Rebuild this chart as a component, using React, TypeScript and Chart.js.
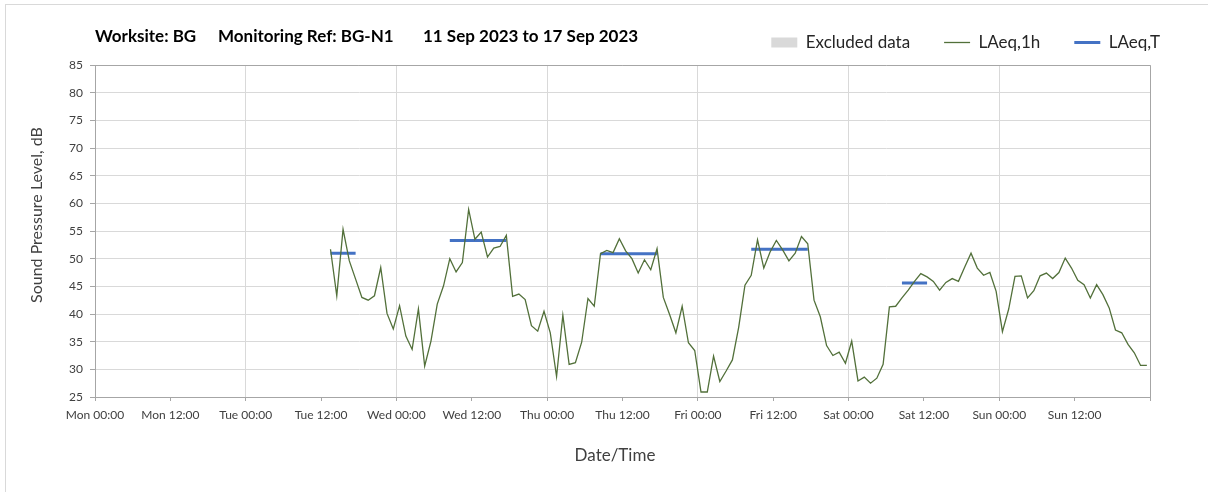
import React, { useEffect, useRef } from 'react';
import { Chart, registerables } from 'chart.js';

Chart.register(...registerables);

// Hours since Mon 00:00 of the first LAeq,1h value (plotted mid-hour)
const START_HOUR = 37.5;

const laeq1h: number[] = [
  51.7, 43.3, 55.3, 49.6, 46.3, 43.0, 42.5, 43.3, 48.4, 40.1,
  37.3, 41.5, 36.0, 33.6, 40.9, 30.6, 35.1, 41.8, 45.1, 50.0,
  47.6, 49.3, 58.9, 53.5, 54.8, 50.3, 51.9, 52.2, 54.2, 43.2,
  43.6, 42.6, 37.9, 36.9, 40.5, 36.6, 28.7, 39.8, 30.9, 31.2,
  34.9, 42.8, 41.4, 50.9, 51.5, 51.1, 53.6, 51.4, 50.0, 47.4,
  49.8, 48.0, 51.8, 43.0, 39.9, 36.6, 41.4, 34.8, 33.4, 25.9,
  25.9, 32.4, 27.8, 29.7, 31.7, 37.6, 45.2, 47.0, 53.4, 48.3,
  51.2, 53.3, 51.6, 49.6, 51.0, 54.0, 52.7, 42.5, 39.5, 34.3,
  32.5, 33.1, 31.1, 35.1, 27.9, 28.6, 27.5, 28.4, 30.9, 41.3,
  41.4, 42.9, 44.3, 45.9, 47.3, 46.7, 45.9, 44.3, 45.7, 46.4,
  45.9, 48.5, 51.0, 48.3, 47.0, 47.5, 44.1, 36.8, 40.9, 46.8,
  46.9, 42.9, 44.2, 46.9, 47.4, 46.4, 47.5, 50.1, 48.3, 46.1,
  45.3, 42.9, 45.3, 43.5, 41.1, 37.1, 36.6, 34.5, 33.0, 30.7,
  30.7,
];

const laeqTStart: number[] = [37.5, 56.5, 80.5, 104.5, 128.5];
const laeqTEnd: number[] = [41.5, 65.5, 89.5, 113.5, 132.5];
const laeqTValue: number[] = [51.0, 53.3, 50.9, 51.7, 45.6];

const dayNames: string[] = ['Mon', 'Tue', 'Wed', 'Thu', 'Fri', 'Sat', 'Sun'];
const halfDayLabels: string[] = ['00:00', '12:00'];

const titleParts: string[] = ['Worksite: BG', 'Monitoring Ref: BG-N1', '11 Sep 2023 to 17 Sep 2023'];
const legendLabels: string[] = ['Excluded data', 'LAeq,1h', 'LAeq,T'];
const xAxisTitle = 'Date/Time';
const yAxisTitle = 'Sound Pressure Level, dB';

const FONT = 'Lato, "Noto Sans", sans-serif';
const GREEN = '#52703a';
const BLUE = '#4472c4';
const GREY_FILL = '#d9d9d9';
const GRID = '#d9d9d9';
const AXIS = '#a6a6a6';

export default function App() {
  const ref = useRef<HTMLCanvasElement | null>(null);

  useEffect(() => {
    if (!ref.current) return;

    const lineData = laeq1h.map((v, i) => ({ x: START_HOUR + i, y: v }));
    const tData: any[] = [];
    laeqTValue.forEach((v, i) => {
      tData.push({ x: laeqTStart[i], y: v });
      tData.push({ x: laeqTEnd[i], y: v });
      tData.push({ x: laeqTEnd[i] + 0.5, y: null });
    });

    const decor = {
      id: 'decor',
      beforeInit(chart: any) {
        const legend = chart.legend;
        if (legend) {
          const orig = legend.fit.bind(legend);
          legend.fit = function () {
            orig();
            this.height = 65;
          };
        }
      },
      afterLayout(chart: any) {
        if (chart.legend) chart.legend.right = 1194;
      },
      beforeDatasetsDraw(chart: any) {
        const { ctx, chartArea } = chart;
        ctx.save();
        ctx.strokeStyle = AXIS;
        ctx.lineWidth = 1;
        ctx.beginPath();
        ctx.moveTo(chartArea.left, Math.round(chartArea.top) + 0.5);
        ctx.lineTo(Math.round(chartArea.right) + 0.5, Math.round(chartArea.top) + 0.5);
        ctx.lineTo(Math.round(chartArea.right) + 0.5, chartArea.bottom);
        ctx.stroke();
        ctx.restore();
      },
      afterDraw(chart: any) {
        const { ctx } = chart;
        ctx.save();
        ctx.fillStyle = '#000';
        ctx.textBaseline = 'middle';
        ctx.textAlign = 'left';
        ctx.font = `bold 17px ${FONT}`;
        ctx.fillText(titleParts[0], 95, 37);
        ctx.fillText(titleParts[1], 218, 37);
        ctx.fillText(titleParts[2], 423, 37);

        ctx.fillStyle = '#404040';
        ctx.font = `17px ${FONT}`;
        ctx.textAlign = 'center';
        ctx.fillText(xAxisTitle, 615, 456);

        ctx.font = `16px ${FONT}`;
        ctx.translate(37, 215);
        ctx.rotate(-Math.PI / 2);
        ctx.fillText(yAxisTitle, 0, 0);
        ctx.restore();
      },
    };

    const chart = new Chart(ref.current, {
      type: 'line',
      data: {
        datasets: [
          {
            type: 'bar',
            label: legendLabels[0],
            data: [],
            backgroundColor: GREY_FILL,
          } as any,
          {
            label: legendLabels[1],
            data: lineData,
            borderColor: GREEN,
            backgroundColor: GREEN,
            borderWidth: 1.3,
            pointRadius: 0,
            tension: 0,
          },
          {
            label: legendLabels[2],
            data: tData,
            borderColor: BLUE,
            backgroundColor: BLUE,
            borderWidth: 3,
            pointRadius: 0,
            spanGaps: false,
          },
        ],
      },
      options: {
        responsive: false,
        animation: false,
        layout: { padding: { left: 0, right: 58, top: 0, bottom: 0 } },
        plugins: {
          title: { display: false },
          tooltip: { enabled: false },
          legend: {
            display: true,
            position: 'top',
            align: 'end',
            labels: {
              usePointStyle: true,
              pointStyleWidth: 26,
              boxHeight: 10,
              padding: 34,
              color: '#262626',
              font: { family: FONT, size: 17 },
              generateLabels: () => [
                { text: legendLabels[0], fillStyle: GREY_FILL, strokeStyle: GREY_FILL, lineWidth: 0, pointStyle: 'rect', datasetIndex: 0, hidden: false, fontColor: '#262626' },
                { text: legendLabels[1], fillStyle: GREEN, strokeStyle: GREEN, lineWidth: 1.3, pointStyle: 'line', datasetIndex: 1, hidden: false, fontColor: '#262626' },
                { text: legendLabels[2], fillStyle: BLUE, strokeStyle: BLUE, lineWidth: 3, pointStyle: 'line', datasetIndex: 2, hidden: false, fontColor: '#262626' },
              ] as any,
            },
          },
        },
        scales: {
          x: {
            type: 'linear',
            min: 0,
            max: 168,
            offset: false,
            afterFit: (s: any) => { s.height = 95; },
            ticks: {
              stepSize: 12,
              autoSkip: false,
              maxRotation: 0,
              padding: 7,
              color: '#404040',
              font: { family: FONT, size: 12 },
              callback: (v: any) => {
                const n = Number(v);
                if (n >= 168) return '';
                return `${dayNames[Math.floor(n / 24)]} ${halfDayLabels[(n % 24) / 12]}`;
              },
            },
            grid: {
              offset: false,
              color: (c: any) => (c.tick && c.tick.value % 24 === 0 ? GRID : 'rgba(0,0,0,0)'),
              tickColor: AXIS,
              tickLength: 4,
              drawTicks: true,
            },
            border: { color: AXIS },
          },
          y: {
            type: 'linear',
            min: 25,
            max: 85,
            afterFit: (s: any) => { s.width = 95; },
            ticks: {
              stepSize: 5,
              padding: 7,
              color: '#404040',
              font: { family: FONT, size: 12 },
            },
            grid: {
              color: GRID,
              tickColor: AXIS,
              tickLength: 5,
            },
            border: { color: AXIS },
          },
        },
      },
      plugins: [decor],
    } as any);

    return () => chart.destroy();
  }, []);

  return (
    <div style={{ position: 'absolute', left: 0, top: 0, width: 1208, height: 492, background: '#fff' }}>
      <div style={{ position: 'absolute', left: 5, top: 4, right: 0, bottom: 0, borderTop: '1px solid #d9d9d9', borderLeft: '1px solid #d9d9d9' }} />
      <canvas ref={ref} width={1208} height={492} style={{ position: 'absolute', left: 0, top: 0 }} />
    </div>
  );
}
